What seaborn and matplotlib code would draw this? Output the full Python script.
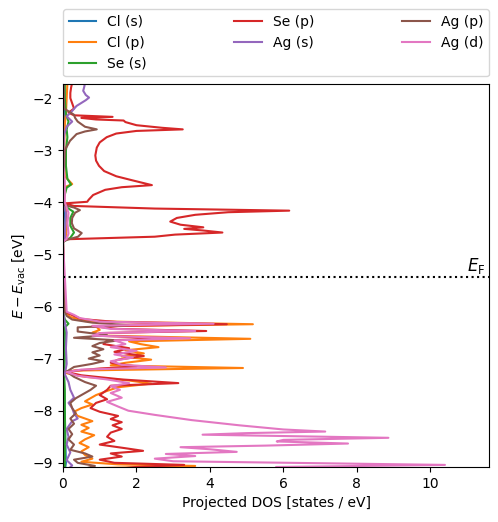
import matplotlib
matplotlib.use("Agg")
import matplotlib.pyplot as plt
import numpy as np
import pandas as pd
import seaborn as sns

# orbital labels (legend order)
orbitals = ["Cl (s)", "Cl (p)", "Se (s)", "Se (p)", "Ag (s)", "Ag (p)", "Ag (d)"]

# Cl (s)
cl_s_E = [-1.70, -2.40, -3.00, -4.20, -4.76, -6.10, -6.50, -7.00, -7.50, -8.00, -8.50, -9.00, -9.15]
cl_s_dos = [0.02, 0.05, 0.01, 0.03, 0.00, 0.00, 0.02, 0.02, 0.03, 0.05, 0.06, 0.08, 0.05]

# Cl (p)
cl_p_E = [-1.70, -2.00, -2.30, -2.50, -3.00, -3.50, -3.65, -3.70, -4.00, -4.10, -4.40, -4.70, -4.76,
          -6.10, -6.20, -6.28, -6.34, -6.38, -6.45, -6.50, -6.56, -6.62, -6.67, -6.72, -6.78, -6.84,
          -6.90, -6.96, -7.02, -7.08, -7.13, -7.18, -7.23, -7.28, -7.35, -7.42, -7.48, -7.55, -7.62,
          -7.70, -7.82, -7.88, -7.95, -8.02, -8.10, -8.20, -8.27, -8.33, -8.40, -8.47, -8.55, -8.62,
          -8.70, -8.78, -8.85, -8.92, -8.98, -9.03, -9.06, -9.10, -9.15]
cl_p_dos = [0.12, 0.10, 0.08, 0.05, 0.03, 0.05, 0.25, 0.08, 0.02, 0.08, 0.10, 0.08, 0.00,
            0.05, 0.20, 0.60, 5.17, 0.90, 1.00, 0.80, 1.20, 5.10, 1.80, 2.10, 2.60, 1.70,
            2.20, 1.60, 2.40, 1.70, 1.30, 4.90, 0.30, 0.10, 0.60, 1.80, 2.40, 1.50, 1.20,
            0.90, 0.60, 0.80, 0.50, 0.30, 0.40, 0.80, 0.50, 0.70, 0.50, 0.85, 0.60, 0.45,
            0.70, 0.50, 0.60, 0.80, 0.50, 1.50, 3.60, 1.00, 0.50]

# Se (s)
se_s_E = [-1.70, -2.00, -2.30, -2.45, -2.60, -2.75, -3.00, -3.30, -3.55, -3.66, -3.72, -3.90, -4.05,
          -4.12, -4.18, -4.30, -4.45, -4.58, -4.68, -4.76,
          -6.10, -6.25, -6.33, -6.40, -6.60, -7.00, -7.30, -7.60, -8.00, -8.50, -9.00, -9.15]
se_s_dos = [0.05, 0.05, 0.08, 0.15, 0.10, 0.12, 0.08, 0.08, 0.12, 0.22, 0.10, 0.03, 0.02,
            0.15, 0.28, 0.20, 0.20, 0.30, 0.20, 0.00,
            0.00, 0.05, 0.15, 0.05, 0.06, 0.05, 0.03, 0.05, 0.05, 0.06, 0.05, 0.05]

# Se (p)
se_p_E = [-1.70, -1.80, -1.90, -2.00, -2.10, -2.20, -2.28, -2.33, -2.36, -2.38, -2.41, -2.43, -2.46,
          -2.52, -2.57, -2.60, -2.63, -2.68, -2.75, -2.85, -2.95, -3.10, -3.20, -3.30, -3.40, -3.50,
          -3.58, -3.67, -3.71, -3.76, -3.86, -3.95, -3.99, -4.02, -4.07, -4.12, -4.16, -4.19, -4.24,
          -4.30, -4.37, -4.43, -4.48, -4.51, -4.54, -4.58, -4.62, -4.66, -4.71, -4.76,
          -6.05, -6.10, -6.18, -6.24, -6.30, -6.34, -6.38, -6.43, -6.47, -6.51, -6.56, -6.61, -6.65,
          -6.72, -6.80, -6.87, -6.95, -7.02, -7.08, -7.15, -7.19, -7.25, -7.32, -7.40, -7.47, -7.52,
          -7.60, -7.70, -7.78, -7.85, -7.95, -8.02, -8.10, -8.16, -8.22, -8.28, -8.35, -8.42, -8.50,
          -8.58, -8.65, -8.72, -8.77, -8.82, -8.88, -8.94, -9.00, -9.04, -9.08, -9.15]
se_p_dos = [0.25, 0.22, 0.20, 0.20, 0.25, 0.30, 0.15, 0.30, 1.35, 0.50, 0.90, 1.65, 1.70,
            2.00, 2.70, 3.26, 2.00, 1.45, 1.19, 1.00, 0.92, 0.88, 0.90, 0.98, 1.12, 1.45,
            1.90, 2.42, 1.60, 1.15, 0.82, 0.70, 0.66, 0.05, 0.30, 2.50, 6.16, 4.50, 3.60,
            3.10, 2.92, 3.20, 3.82, 3.30, 3.80, 4.34, 3.05, 2.50, 0.05, 0.00,
            0.00, 0.05, 0.30, 0.50, 1.50, 4.46, 0.80, 1.50, 3.90, 1.00, 0.90, 2.83, 1.20,
            1.10, 1.80, 1.40, 2.20, 1.50, 1.30, 2.00, 1.00, 0.05, 0.50, 1.60, 3.14, 1.30,
            1.20, 1.00, 1.20, 0.90, 0.75, 1.00, 1.50, 1.30, 1.60, 1.35, 1.60, 1.30, 1.20,
            1.40, 1.00, 1.70, 2.18, 1.30, 1.60, 1.00, 1.40, 3.30, 2.00, 1.00]

# Ag (s)
ag_s_E = [-1.70, -1.78, -1.86, -1.94, -1.99, -2.04, -2.15, -2.27, -2.35, -2.45, -2.55, -2.70, -3.00,
          -3.50, -4.05, -4.20, -4.50, -4.70, -4.76,
          -6.10, -6.30, -6.50, -6.80, -7.10, -7.30, -7.45, -7.60, -7.75, -7.85, -7.95, -8.05, -8.15,
          -8.20, -8.35, -8.50, -8.65, -8.80, -8.95, -9.05, -9.15]
ag_s_dos = [0.60, 0.58, 0.55, 0.62, 0.71, 0.62, 0.37, 0.22, 0.10, 0.25, 0.10, 0.03, 0.01,
            0.01, 0.01, 0.08, 0.06, 0.05, 0.00,
            0.00, 0.05, 0.10, 0.08, 0.10, 0.05, 0.15, 0.20, 0.30, 0.15, 0.25, 0.30, 0.40,
            0.25, 0.10, 0.15, 0.10, 0.20, 0.10, 0.25, 0.10]

# Ag (p)
ag_p_E = [-1.70, -2.20, -2.32, -2.38, -2.45, -2.55, -2.60, -2.64, -2.69, -2.82, -3.00, -3.50, -4.05,
          -4.10, -4.15, -4.20, -4.30, -4.40, -4.50, -4.59, -4.66, -4.72, -4.76,
          -6.10, -6.18, -6.25, -6.31, -6.36, -6.40, -6.48, -6.55, -6.60, -6.65, -6.70, -6.76, -6.82,
          -6.88, -6.94, -7.00, -7.05, -7.10, -7.16, -7.25, -7.35, -7.45, -7.52, -7.60, -7.68, -7.76,
          -7.85, -7.95, -8.05, -8.15, -8.25, -8.35, -8.45, -8.55, -8.65, -8.75, -8.82, -8.88, -8.94,
          -9.00, -9.06, -9.15]
ag_p_dos = [0.02, 0.03, 0.30, 0.33, 0.40, 0.60, 0.92, 0.60, 0.37, 0.19, 0.05, 0.02, 0.02,
            0.30, 0.46, 0.33, 0.25, 0.24, 0.30, 0.51, 0.41, 0.10, 0.00,
            0.05, 0.10, 0.25, 0.80, 1.80, 0.40, 0.40, 1.20, 0.30, 1.50, 1.00, 0.80, 1.10,
            0.80, 1.00, 0.70, 1.10, 0.80, 0.30, 0.10, 0.30, 0.60, 0.90, 0.75, 0.55, 0.35,
            0.20, 0.25, 0.35, 0.20, 0.30, 0.15, 0.25, 0.15, 0.30, 0.20, 0.60, 0.80, 0.30,
            0.40, 0.87, 0.40]

# Ag (d)
ag_d_E = [-1.70, -3.30, -3.60, -4.00, -4.10, -4.20, -4.40, -4.60, -4.70, -4.76,
          -6.10, -6.16, -6.22, -6.29, -6.33, -6.37, -6.43, -6.47, -6.51, -6.56, -6.61, -6.65, -6.72,
          -6.78, -6.85, -6.92, -6.98, -7.05, -7.12, -7.17, -7.21, -7.26, -7.33, -7.40, -7.47, -7.53,
          -7.60, -7.66, -7.75, -7.83, -7.92, -8.00, -8.08, -8.18, -8.28, -8.36, -8.40, -8.43, -8.46,
          -8.52, -8.56, -8.59, -8.63, -8.67, -8.70, -8.74, -8.79, -8.83, -8.87, -8.92, -8.97, -9.04,
          -9.08, -9.15]
ag_d_dos = [0.00, 0.01, 0.05, 0.05, 0.10, 0.15, 0.12, 0.15, 0.10, 0.00,
            0.10, 0.30, 0.45, 1.00, 4.10, 0.80, 1.30, 3.60, 1.00, 0.80, 3.46, 1.40, 1.70,
            1.30, 2.00, 1.40, 1.90, 1.30, 1.60, 2.80, 0.50, 0.10, 0.40, 1.20, 1.80, 1.30,
            1.55, 1.30, 1.60, 1.20, 1.50, 1.78, 2.50, 3.50, 4.80, 6.00, 7.14, 5.00, 3.80,
            8.86, 6.00, 5.82, 7.76, 5.50, 3.20, 4.00, 4.73, 2.80, 3.60, 2.50, 3.00, 10.40,
            5.80, 6.00]

E_fermi = -5.44

series = [(cl_s_E, cl_s_dos), (cl_p_E, cl_p_dos), (se_s_E, se_s_dos), (se_p_E, se_p_dos),
          (ag_s_E, ag_s_dos), (ag_p_E, ag_p_dos), (ag_d_E, ag_d_dos)]
frames = []
for name, (e, d) in zip(orbitals, series):
    frames.append(pd.DataFrame({"energy": e, "dos": d, "orbital": name}))
df = pd.concat(frames, ignore_index=True)

fig = plt.figure(figsize=(4.98, 5.22), dpi=100)
ax = fig.add_axes([0.1265, 0.1054, 0.8555, 0.7336])

sns.lineplot(data=df, x="dos", y="energy", hue="orbital", hue_order=orbitals,
             palette="tab10", orient="y", estimator=None, linewidth=1.5, ax=ax)

ax.axhline(E_fermi, color="k", ls=":", lw=1.5)
ax.text(11.5, E_fermi + 0.03, r"$E_\mathrm{F}$", ha="right", va="bottom", fontsize=12)

ax.set_xlim(0, 11.6)
ax.set_ylim(-9.08, -1.73)
ax.set_xlabel("Projected DOS [states / eV]")
ax.set_ylabel(r"$E - E_\mathrm{vac}$ [eV]")

sns.move_legend(ax, "lower left", bbox_to_anchor=(0, 1.02, 1, 0.102), ncol=3,
                mode="expand", borderaxespad=0, title=None, frameon=True)

fig.savefig("out.png", dpi=100)
